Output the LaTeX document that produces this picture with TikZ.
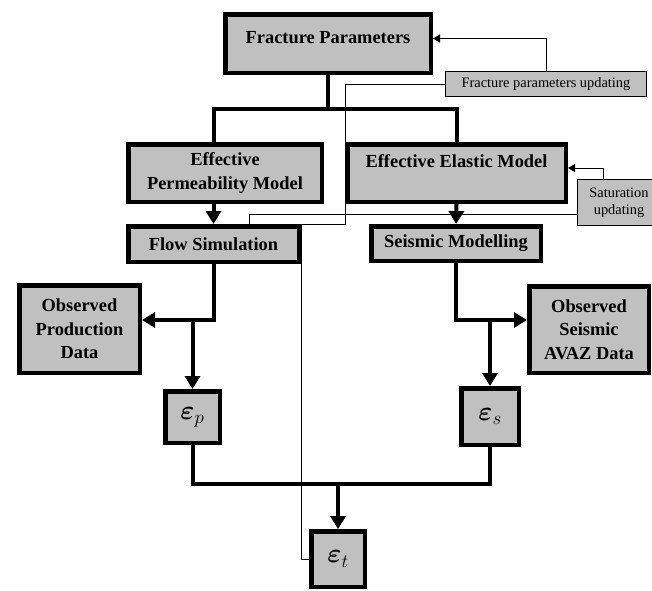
\documentclass[tikz,border=0pt]{standalone}
\usepackage{fix-cm}
\usepackage{amsmath}
\usepackage{fontspec}
\setmainfont{Liberation Serif}
\usepackage{tikz}
\usetikzlibrary{arrows.meta,positioning,calc}
\pgfdeclarelayer{bg}
\pgfsetlayers{bg,main}
\definecolor{boxgray}{RGB}{192,192,192}

\begin{document}
\begin{tikzpicture}[
					x = 1pt, y = -1pt,
					box/.style = {draw, line width = 4.5pt, fill = boxgray, inner sep = 0pt, align = center,
						font = \bfseries\fontsize{18.4}{23.5}\selectfont},
					note/.style = {draw, line width = 1.2pt, fill = boxgray, inner sep = 0pt, align = center,
						font = \fontsize{14.4}{17}\selectfont},
					err/.style = {box, font = \fontsize{27}{27}\selectfont},
					bar/.style = {line width = 4pt},
					link/.style = {bar, -{Triangle[width=15pt,length=13pt]}},
					feed/.style = {line width = 1pt},
					small/.style = {feed, -{Triangle[width=8pt,length=7pt]}}
					]

					\useasboundingbox (0,0) rectangle (652,590);

					% boxes
					\node[box, minimum width=205.5pt, minimum height=58.5pt, text height=12.5pt, text depth=13pt] (fp) at (328,43.5) {Fracture Parameters};
					\node[note, minimum width=201pt, minimum height=25pt] (fpu) at (546,84) {Fracture parameters updating};
					\node[box, minimum width=193.5pt, minimum height=57.5pt] (epm) at (225,173) {Effective\\Permeability Model};
					\node[box, minimum width=218.5pt, minimum height=57.5pt] (eem) at (456.5,173) {Effective Elastic Model\\\mbox{}};
					\node[note, minimum width=83pt, minimum height=46pt] (sat) at (619,202.5) {Saturation\\updating};
					\node[box, minimum width=170.5pt, minimum height=35.5pt] (fs) at (213.5,244) {Flow Simulation};
					\node[box, minimum width=169.5pt, minimum height=34.5pt] (sm) at (456,243.5) {Seismic Modelling};
					\node[box, minimum width=120.5pt, minimum height=87.5pt] (opd) at (79.5,329) {Observed\\Production\\Data};
					\node[box, minimum width=119.5pt, minimum height=86.5pt] (osd) at (589,329.5) {Observed\\Seismic\\AVAZ Data};
					\node[err, minimum width=54.5pt, minimum height=51.5pt] (ep) at (192.5,417) {$\boldsymbol{\varepsilon}_{p}$};
					\node[err, minimum width=57.5pt, minimum height=56.5pt] (es) at (490,416.5) {$\boldsymbol{\varepsilon}_{s}$};
					\node[err, minimum width=53.5pt, minimum height=55.5pt] (et) at (338,559) {$\boldsymbol{\varepsilon}_{t}$};

					% main flow
					\coordinate (split) at (fp.south |- 0,109);
					\draw[bar] (fp.south) -- (split);
					\draw[bar] (fs.north |- epm.north) |- (split) -| (eem.north);
					\draw[link] (fs.north |- epm.south) -- (fs.north);
					\draw[link] (eem.south) -- (sm.north);

					\coordinate (pj) at (ep.north |- 0,320);
					\draw[link] (fs.south) |- (opd.east |- pj);
					\draw[link] (pj) -- (ep.north);
					\coordinate (sj) at (es.north |- 0,320);
					\draw[link] (sm.south) |- (osd.west |- sj);
					\draw[link] (sj) -- (es.north);

					\coordinate (tj) at (et.north |- 0,484);
					\draw[bar] (ep.south) |- (tj) -| (es.south);
					\draw[link] (tj) -- (et.north);

					% updating loops
					\draw[small] (fpu.north) |- ([yshift=5pt]fp.east);
					\draw[small] ([xshift=-16pt]sat.north) |- ([yshift=5pt]eem.east);
					\begin{pgfonlayer}{bg}
						\draw[feed] (et.west) -| (fs.north east) -| (eem.west |- fpu.west) -- (fpu.west);
						\draw[feed] ([yshift=-12pt]sat.west) -| ([xshift=36pt]fs.north);
					\end{pgfonlayer}

				\end{tikzpicture}
\end{document}
